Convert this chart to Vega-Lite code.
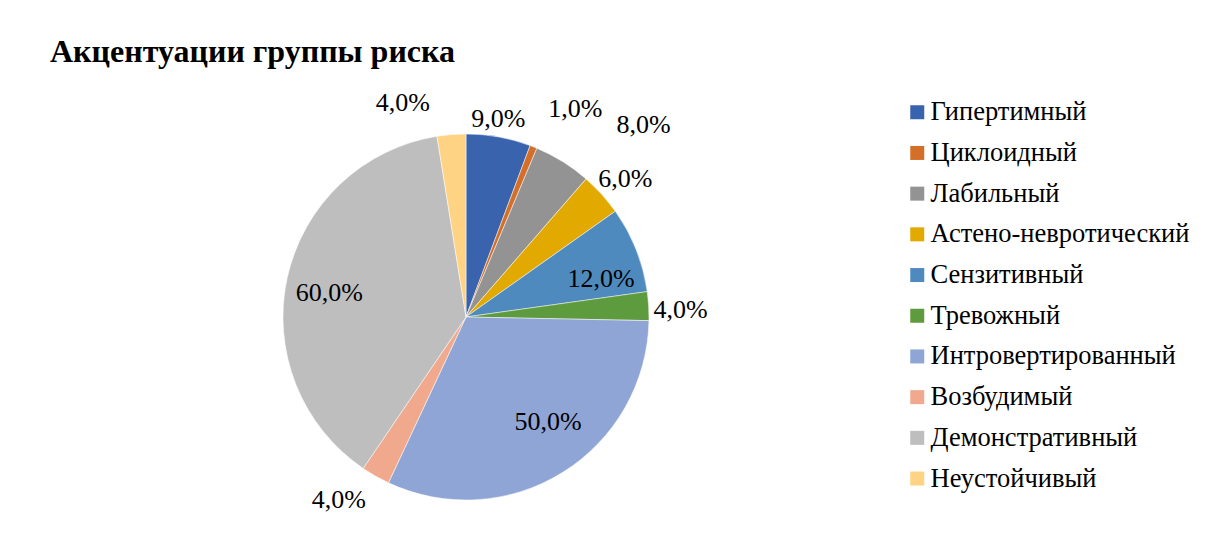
{
  "$schema": "https://vega.github.io/schema/vega-lite/v6.json",
  "width": 500,
  "height": 468,
  "autosize": {"type": "none"},
  "padding": {"left": 216, "top": 83, "right": 513, "bottom": 0},
  "background": "white",
  "config": {
    "view": {"stroke": null},
    "font": "Liberation Serif",
    "text": {"font": "Liberation Serif", "fontSize": 26, "color": "#000000", "dy": 6},
    "locale": {"number": {"decimal": ",", "thousands": " ", "grouping": [3], "currency": ["", " ₽"]}}
  },
  "title": {
    "text": "Акцентуации группы риска",
    "anchor": "start",
    "frame": "group",
    "dx": -166,
    "dy": 33,
    "offset": 20,
    "baseline": "alphabetic",
    "font": "Liberation Serif",
    "fontSize": 32,
    "fontWeight": "bold",
    "color": "#000000"
  },
  "data": {
    "values": [
      {"type": "Гипертимный", "pct": 0.09},
      {"type": "Циклоидный", "pct": 0.01},
      {"type": "Лабильный", "pct": 0.08},
      {"type": "Астено-невротический", "pct": 0.06},
      {"type": "Сензитивный", "pct": 0.12},
      {"type": "Тревожный", "pct": 0.04},
      {"type": "Интровертированный", "pct": 0.50},
      {"type": "Возбудимый", "pct": 0.04},
      {"type": "Демонстративный", "pct": 0.60},
      {"type": "Неустойчивый", "pct": 0.04}
    ]
  },
  "transform": [
    {"window": [{"op": "row_number", "as": "rank"}]}
  ],
  "encoding": {
    "theta": {"field": "pct", "type": "quantitative", "stack": true},
    "order": {"field": "rank", "type": "quantitative"}
  },
  "layer": [
    {
      "mark": {"type": "arc", "outerRadius": 183, "stroke": "#ffffff", "strokeWidth": 0.5},
      "encoding": {
        "color": {
          "field": "type",
          "type": "nominal",
          "sort": null,
          "scale": {
            "domain": ["Гипертимный", "Циклоидный", "Лабильный", "Астено-невротический", "Сензитивный", "Тревожный", "Интровертированный", "Возбудимый", "Демонстративный", "Неустойчивый"],
            "range": ["#3A63AD", "#D46F2A", "#939393", "#E2A900", "#4E8ABE", "#5E9A3E", "#8FA5D5", "#F0A98C", "#BEBEBE", "#FFD384"]
          },
          "legend": {
            "title": null,
            "orient": "none",
            "legendX": 688,
            "legendY": 16,
            "symbolType": "square",
            "symbolSize": 196,
            "symbolStrokeWidth": 0,
            "labelFont": "Liberation Serif",
            "labelFontSize": 26.5,
            "labelColor": "#000000",
            "labelOffset": 0,
            "rowPadding": 13.7,
            "labelLimit": 400
          }
        }
      }
    },
    {
      "mark": {"type": "text", "radius": 140},
      "encoding": {
        "text": {"condition": {"test": "datum.type === 'Демонстративный'", "field": "pct", "type": "quantitative", "format": ".1%"}, "value": ""}
      }
    },
    {
      "mark": {"type": "text", "radius": 140, "dx": 5, "dy": 14},
      "encoding": {
        "text": {"condition": {"test": "datum.type === 'Сензитивный'", "field": "pct", "type": "quantitative", "format": ".1%"}, "value": ""}
      }
    },
    {
      "mark": {"type": "text", "radius": 140, "dx": 8, "dy": -14},
      "encoding": {
        "text": {"condition": {"test": "datum.type === 'Интровертированный'", "field": "pct", "type": "quantitative", "format": ".1%"}, "value": ""}
      }
    },
    {
      "mark": {"type": "text", "radius": 215},
      "encoding": {
        "text": {"condition": {"test": "indexof(['Астено-невротический','Тревожный'], datum.type) >= 0", "field": "pct", "type": "quantitative", "format": ".1%"}, "value": ""}
      }
    },
    {
      "mark": {"type": "text", "radius": 215, "dx": -21, "dy": -4},
      "encoding": {
        "text": {"condition": {"test": "datum.type === 'Возбудимый'", "field": "pct", "type": "quantitative", "format": ".1%"}, "value": ""}
      }
    },
    {
      "mark": {"type": "text", "radius": 215, "dx": -46, "dy": 0},
      "encoding": {
        "text": {"condition": {"test": "datum.type === 'Неустойчивый'", "field": "pct", "type": "quantitative", "format": ".1%"}, "value": ""}
      }
    },
    {
      "mark": {"type": "text", "radius": 215, "dx": -6, "dy": 14},
      "encoding": {
        "text": {"condition": {"test": "datum.type === 'Гипертимный'", "field": "pct", "type": "quantitative", "format": ".1%"}, "value": ""}
      }
    },
    {
      "mark": {"type": "text", "radius": 215, "dx": 30, "dy": -8},
      "encoding": {
        "text": {"condition": {"test": "datum.type === 'Циклоидный'", "field": "pct", "type": "quantitative", "format": ".1%"}, "value": ""}
      }
    },
    {
      "mark": {"type": "text", "radius": 215, "dx": 64, "dy": -9},
      "encoding": {
        "text": {"condition": {"test": "datum.type === 'Лабильный'", "field": "pct", "type": "quantitative", "format": ".1%"}, "value": ""}
      }
    }
  ]
}
